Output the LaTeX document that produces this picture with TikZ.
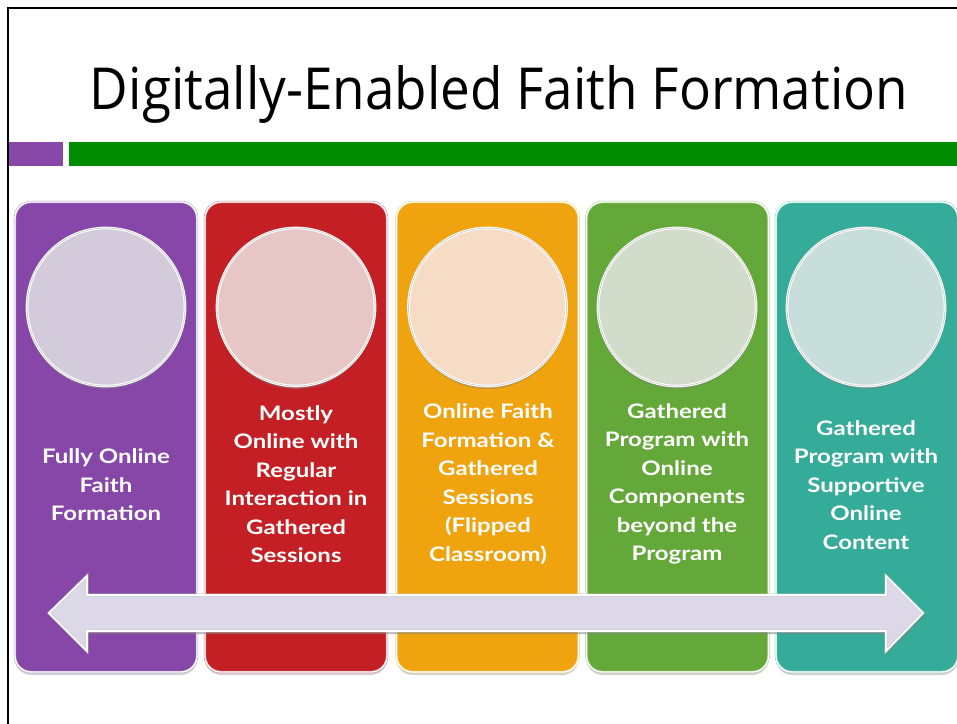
\documentclass[tikz,border=0pt]{standalone}
\usepackage{fontspec}
\setmainfont{Open Sans}
\newfontfamily\lab{Lato}[FakeStretch=1.2]
\usetikzlibrary{shadows}
\definecolor{cpurple}{HTML}{8647A8}
\definecolor{cred}{HTML}{C31F24}
\definecolor{corange}{HTML}{EEA30F}
\definecolor{cgreen}{HTML}{65A83A}
\definecolor{cteal}{HTML}{35AB99}
\definecolor{lpurple}{HTML}{D3CBDC}
\definecolor{lred}{HTML}{E7C6C6}
\definecolor{lorange}{HTML}{F6DBC5}
\definecolor{lgreen}{HTML}{D1DDCA}
\definecolor{lteal}{HTML}{C7DEDA}
\definecolor{barpurple}{HTML}{8848A8}
\definecolor{bargreen}{HTML}{008C00}
\definecolor{arrowfill}{HTML}{DCD8E7}
\tikzset{
  colbox/.style={rectangle, rounded corners=16pt, minimum width=182pt, minimum height=470pt,
    fill=#1, draw=#1!55!white, double=white, double distance=1.4pt, line width=0.5pt,
    drop shadow={opacity=0.35, shadow xshift=0pt, shadow yshift=-3pt}},
  disc/.style={circle, minimum size=158pt, inner sep=0pt, fill=#1, draw=white,
    double=white!60!gray, double distance=0.7pt, line width=1pt,
    drop shadow={opacity=0.45, shadow xshift=0pt, shadow yshift=-3pt}},
  lbl/.style={align=center, text=white, font=\lab\bfseries\fontsize{20}{28.5}\selectfont}
}
\begin{document}
\begin{tikzpicture}[x=1pt,y=-1pt]
\useasboundingbox (0,0) rectangle (957,723);
\fill[white] (0,0) rectangle (957,723);
\draw[line width=2pt] (7.5,724) -- (7.5,7.5) -- (958,7.5);
\node[anchor=base, inner sep=0pt] (title) at (499,109)
  {\resizebox{818pt}{44pt}{\fontsize{60}{60}\selectfont Digitally-Enabled Faith Formation}};
\fill[barpurple] (8.5,142) rectangle (63,166);
\fill[bargreen] (69,142) rectangle (957,166);
% columns
\node[colbox=cpurple] (c1) at (106,437) {};
\node[colbox=cred] (c2) at (296,437) {};
\node[colbox=corange] (c3) at (487.5,437) {};
\node[colbox=cgreen] (c4) at (677.5,437) {};
\node[colbox=cteal] (c5) at (867,437) {};
% circles
\node[disc=lpurple] (k1) at (106,307) {};
\node[disc=lred] (k2) at (296,307) {};
\node[disc=lorange] (k3) at (487.5,307) {};
\node[disc=lgreen] (k4) at (677,307) {};
\node[disc=lteal] (k5) at (866,307) {};
% labels
\node[lbl] (t1) at (106,485) {Fully Online\\Faith\\Formation};
\node[lbl] (t2) at (296,484) {Mostly\\Online with\\Regular\\Interaction in\\Gathered\\Sessions};
\node[lbl] (t3) at (488,484) {Online Faith\\Formation \&\\Gathered\\Sessions\\(Flipped\\Classroom)};
\node[lbl] (t4) at (677,484) {Gathered\\Program with\\Online\\Components\\beyond the\\Program};
\node[lbl] (t5) at (866,485) {Gathered\\Program with\\Supportive\\Online\\Content};
% double arrow
\draw[fill=arrowfill, draw=gray!45, double=white, double distance=1.6pt, line width=0.5pt,
      drop shadow={opacity=0.5, shadow xshift=1pt, shadow yshift=-3pt}]
  (49,613) -- (87,576) -- (87,595) -- (886,595) -- (886,576) -- (923,613)
  -- (886,651) -- (886,631) -- (87,631) -- (87,651) -- cycle;
\end{tikzpicture}
\end{document}
